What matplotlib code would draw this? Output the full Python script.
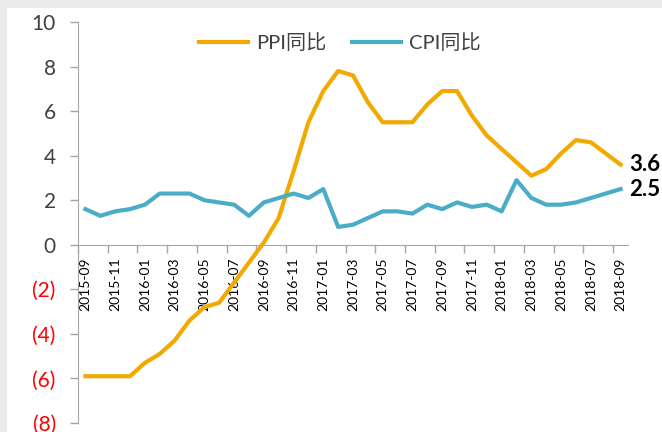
import numpy as np
import matplotlib
matplotlib.use('Agg')
from matplotlib import pyplot as plt
from matplotlib.patches import Rectangle

plt.rcParams['font.family'] = ['Lato', 'Noto Sans CJK SC', 'DejaVu Sans']

months = ['2015-09', '2015-10', '2015-11', '2015-12',
          '2016-01', '2016-02', '2016-03', '2016-04', '2016-05', '2016-06',
          '2016-07', '2016-08', '2016-09', '2016-10', '2016-11', '2016-12',
          '2017-01', '2017-02', '2017-03', '2017-04', '2017-05', '2017-06',
          '2017-07', '2017-08', '2017-09', '2017-10', '2017-11', '2017-12',
          '2018-01', '2018-02', '2018-03', '2018-04', '2018-05', '2018-06',
          '2018-07', '2018-08', '2018-09']

ppi = [-5.9, -5.9, -5.9, -5.9,
       -5.3, -4.9, -4.3, -3.4, -2.8, -2.6,
       -1.7, -0.8, 0.1, 1.2, 3.3, 5.5,
       6.9, 7.8, 7.6, 6.4, 5.5, 5.5,
       5.5, 6.3, 6.9, 6.9, 5.8, 4.9,
       4.3, 3.7, 3.1, 3.4, 4.1, 4.7,
       4.6, 4.1, 3.6]

cpi = [1.6, 1.3, 1.5, 1.6,
       1.8, 2.3, 2.3, 2.3, 2.0, 1.9,
       1.8, 1.3, 1.9, 2.1, 2.3, 2.1,
       2.5, 0.8, 0.9, 1.2, 1.5, 1.5,
       1.4, 1.8, 1.6, 1.9, 1.7, 1.8,
       1.5, 2.9, 2.1, 1.8, 1.8, 1.9,
       2.1, 2.3, 2.5]

ppi_color = '#f2a900'
cpi_color = '#4bacc6'
text_color = '#404040'
axis_color = '#a6a6a6'

fig = plt.figure(figsize=(6.62, 4.32), dpi=100)
fig.patch.set_facecolor('#ebebeb')
fig.patches.append(Rectangle((7 / 662, 0), 1, 1 - 8 / 432, transform=fig.transFigure,
                             facecolor='white', edgecolor='none', zorder=-10))

ax = fig.add_axes([78 / 662, 1 - 423 / 432, (628 - 78) / 662, (423 - 22) / 432])
ax.patch.set_alpha(0)

x = np.arange(len(months))
ax.plot(x, ppi, color=ppi_color, lw=3.0, label='PPI同比', solid_joinstyle='round', clip_on=False)
ax.plot(x, cpi, color=cpi_color, lw=3.0, label='CPI同比', solid_joinstyle='round', clip_on=False)

ax.set_xlim(-0.5, len(months) - 0.5)
ax.set_ylim(-8, 10)
yt = np.arange(-8, 11, 2)
ax.set_yticks(yt)
ax.set_yticklabels(['(%d)' % abs(v) if v < 0 else '%d' % v for v in yt], fontsize=15)
for lbl, v in zip(ax.get_yticklabels(), yt):
    lbl.set_color('#ff0000' if v < 0 else text_color)

# category axis: labels every 2nd month, tick marks on category boundaries
ax.set_xticks(x[::2])
ax.set_xticklabels(months[::2], fontsize=11, color=text_color, family='DejaVu Sans')
ax.set_xticks(np.arange(-0.5, len(months), 2), minor=True)
ax.tick_params(axis='x', which='major', length=0, pad=9, labelrotation=90)
ax.tick_params(axis='x', which='minor', length=6, color=axis_color, width=1)
ax.tick_params(axis='y', length=6, color=axis_color, width=1, pad=10)

ax.spines['top'].set_visible(False)
ax.spines['right'].set_visible(False)
ax.spines['left'].set_color(axis_color)
ax.spines['bottom'].set_color(axis_color)
ax.spines['bottom'].set_position(('data', 0))

ax.text(x[-1] + 0.6, ppi[-1], '%.1f' % ppi[-1], fontsize=16, fontweight='bold',
        va='center', ha='left', color='black')
ax.text(x[-1] + 0.6, cpi[-1], '%.1f' % cpi[-1], fontsize=16, fontweight='bold',
        va='center', ha='left', color='black')

leg = ax.legend(loc='center', bbox_to_anchor=(0.476, 0.948), ncol=2, frameon=False,
                fontsize=14.5, handlelength=2.4, columnspacing=1.3, handletextpad=0.4)
for t in leg.get_texts():
    t.set_color(text_color)

fig.savefig('out.png', dpi=100, facecolor=fig.get_facecolor())
